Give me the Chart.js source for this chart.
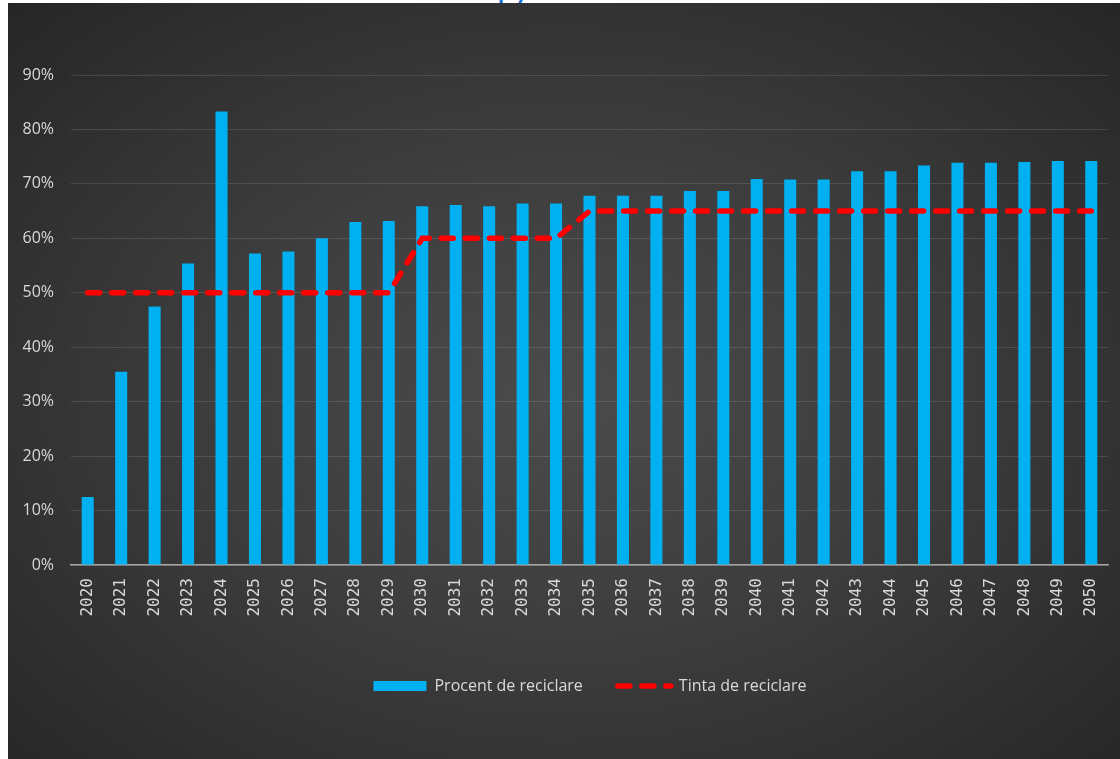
<!DOCTYPE html>
<html><head><meta charset="utf-8">
<script src="https://cdn.jsdelivr.net/npm/chart.js@4/dist/chart.umd.min.js"></script>
<style>
html,body{margin:0;padding:0;background:#fff;width:1120px;height:759px;overflow:hidden;position:relative;}
#title{position:absolute;left:0;top:0;width:1120px;height:3px;overflow:hidden;}
#title span{position:absolute;left:498px;top:-21px;font:bold 22px "Liberation Sans",sans-serif;color:#1473d6;}
#panel{position:absolute;left:8px;top:3px;width:1112px;height:756px;background:radial-gradient(ellipse farthest-corner at 50% 52%, #4b4b4b 0%, #3d3d3d 45%, #262626 100%);}
canvas{display:block}
</style></head><body>
<div id="title"><span>p.)</span></div>
<div id="panel"><canvas id="c" width="1112" height="756"></canvas></div>
<script>
const years = ["2020","2021","2022","2023","2024","2025","2026","2027","2028","2029",
  "2030","2031","2032","2033","2034","2035","2036","2037","2038","2039",
  "2040","2041","2042","2043","2044","2045","2046","2047","2048","2049","2050"];
const recyclingPct = [12.5,35.5,47.5,55.4,83.3,57.2,57.6,60.0,63.0,63.2,
  65.9,66.1,65.9,66.4,66.4,67.8,67.8,67.8,68.7,68.7,
  70.9,70.8,70.8,72.3,72.3,73.4,73.9,73.9,74.0,74.2,74.2];
const targetPct = [50,50,50,50,50,50,50,50,50,50,
  60,60,60,60,60,65,65,65,65,65,
  65,65,65,65,65,65,65,65,65,65,65];
const yMin = 0, yMax = 90, yStep = 10;
const seriesNames = ["Procent de reciclare", "Tinta de reciclare"];

const tickColor = '#d9d9d9';
const legendShift = {
  id: 'legendShift',
  afterLayout(chart) {
    const lg = chart.legend;
    if (lg) { lg.left += 27; lg.right += 27; }
  }
};
new Chart(document.getElementById('c'), {
  data: {
    labels: years,
    datasets: [
      { type: 'bar', label: seriesNames[0], data: recyclingPct, backgroundColor: '#00b0f0',
        borderWidth: 0, barPercentage: 0.9, categoryPercentage: 0.4, order: 1 },
      { type: 'line', label: seriesNames[1], data: targetPct, borderColor: '#ff0000',
        backgroundColor: '#ff0000', borderWidth: 5.5, borderDash: [12, 12], borderCapStyle: 'round',
        pointRadius: 0, tension: 0, fill: false, order: 0 }
    ]
  },
  plugins: [legendShift],
  options: {
    responsive: false,
    animation: false,
    layout: { padding: { left: 10, right: 12, top: 72, bottom: 55 } },
    scales: {
      x: {
        grid: { display: false },
        border: { color: '#a6a6a6', width: 1.5 },
        ticks: { color: tickColor, font: { family: 'DejaVu Sans Mono', size: 16 },
          minRotation: 90, maxRotation: 90, padding: 5, autoSkip: false },
        afterFit: s => { s.height = 78; }
      },
      y: {
        min: yMin, max: yMax,
        grid: { color: 'rgba(255,255,255,0.12)', lineWidth: 1, drawTicks: false },
        border: { display: false },
        ticks: { stepSize: yStep, color: tickColor, font: { family: 'Open Sans', size: 16 },
          padding: 17, callback: v => v + '%' },
        afterFit: s => { s.width = 53; }
      }
    },
    plugins: {
      tooltip: { enabled: false },
      legend: {
        position: 'bottom',
        labels: {
          usePointStyle: true, pointStyleWidth: 53, boxHeight: 10, padding: 35,
          color: tickColor, font: { family: 'Open Sans', size: 16 },
          generateLabels(chart) {
            const items = Chart.defaults.plugins.legend.labels.generateLabels(chart);
            items.sort((a, b) => a.datasetIndex - b.datasetIndex);
            items.forEach(it => {
              it.fontColor = tickColor;
              if (it.datasetIndex === 0) { it.pointStyle = 'rect'; it.lineWidth = 0; it.fillStyle = '#00b0f0'; }
              else { it.pointStyle = 'line'; it.lineWidth = 5.5; it.lineDash = [12, 12]; it.lineCap = 'round'; it.strokeStyle = '#ff0000'; }
            });
            return items;
          }
        }
      }
    }
  }
});
</script>
</body></html>
